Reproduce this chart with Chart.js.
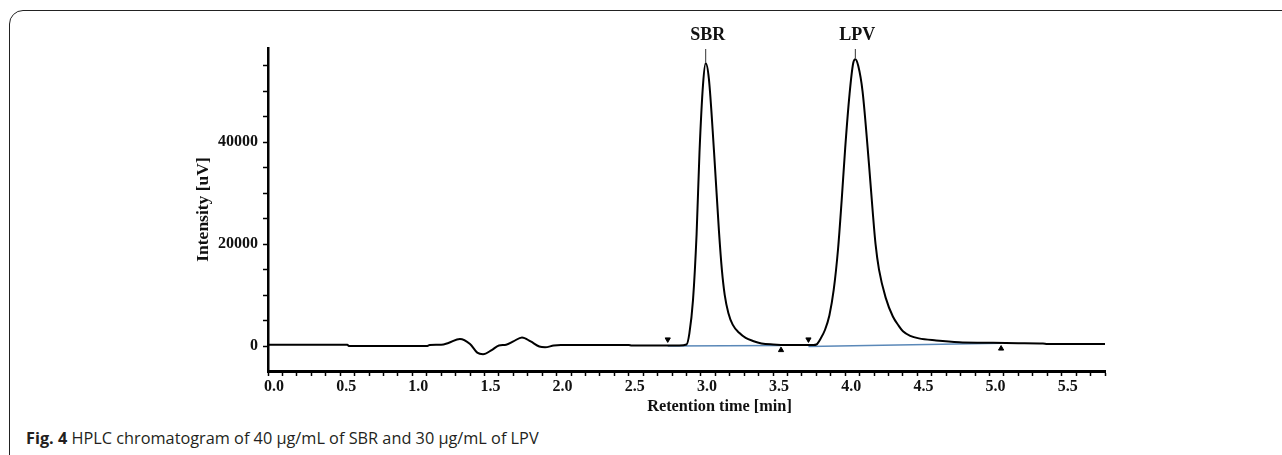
<!DOCTYPE html>
<html>
<head>
<meta charset="utf-8">
<script src="https://cdn.jsdelivr.net/npm/chart.js@4"></script>
<style>
  html, body { margin: 0; padding: 0; background: #fff; width: 1282px; height: 455px; overflow: hidden; }
  .card {
    position: absolute; left: 9px; top: 10px; width: 1300px; height: 480px;
    border: 1.5px solid #222; border-radius: 14px; box-sizing: border-box;
  }
  #wrap { position: absolute; left: 0; top: 0; width: 1282px; height: 420px; }
  .caption {
    position: absolute; left: 26px; top: 427px;
    font-family: "Open Sans", sans-serif; font-size: 16.3px; color: #231f20; white-space: nowrap;
  }
  .caption b { font-weight: 700; }
</style>
</head>
<body>
<div class="card"></div>
<div id="wrap"><canvas id="hplcChart"></canvas></div>
<div class="caption"><b>Fig. 4</b> HPLC chromatogram of 40 μg/mL of SBR and 30 μg/mL of LPV</div>
<script>
// chromatogram trace (min, uV)
const times = [
  0.00, 0.55, 0.56, 1.10, 1.12, 1.20, 1.25, 1.33, 1.40, 1.45, 1.49, 1.55, 1.60, 1.65, 1.70, 1.76, 1.82, 1.88, 1.92, 1.98, 2.03,
  2.50, 2.52, 2.85, 2.90, 2.92, 2.945, 2.97, 2.99, 3.015, 3.033, 3.055, 3.09, 3.125, 3.145, 3.165, 3.19, 3.22, 3.265, 3.31, 3.36, 3.42, 3.50, 3.60,
  3.78, 3.80, 3.83, 3.86, 3.89, 3.92, 3.95, 3.975, 4.00, 4.03, 4.055, 4.07, 4.09, 4.12, 4.165, 4.19, 4.21, 4.234, 4.28, 4.33, 4.37, 4.40, 4.45,
  4.51, 4.63, 4.79, 4.97, 5.20, 5.37, 5.40, 5.80
];
const intensity = [
  250, 250, 0, 0, 200, 250, 600, 1400, 400, -1300, -1600, -800, 100, 250, 900, 1700, 900, -100, -250, 100, 200,
  200, 100, 100, 300, 2500, 9000, 22000, 38000, 51500, 55500, 52500, 38500, 22500, 15000, 10000, 6500, 4200, 2600, 1600, 1000, 500, 300, 200,
  200, 300, 1500, 3200, 6000, 11000, 19000, 28500, 39000, 49500, 55500, 56300, 55000, 50000, 35500, 26500, 20000, 15000, 9500, 5800, 4000, 2900, 2000,
  1500, 1100, 750, 650, 550, 500, 400, 400
];

// integration baselines
const baseTimes = [[2.77, 3.555], [3.745, 5.08]];
const baseValues = [[0, 100], [-100, 550]];

// peak start (down) / end (up) markers
const startMarkTimes = [2.77, 3.745];
const startMarkValues = [1300, 1300];
const endMarkTimes = [3.555, 5.08];
const endMarkValues = [-800, -500];

// peak names
const peakNames = ["SBR", "LPV"];
const peakTimes = [3.033, 4.07];
const peakHeights = [55500, 56300];

// axis ticks
const xLabelStep = 0.5;
const yTicks = [0, 5000, 10000, 15000, 20000, 25000, 30000, 35000, 40000, 45000, 50000, 55000];
const yLabels = [0, 20000, 40000];

const serif = "'Liberation Serif', 'Times New Roman', serif";

function pts(xs, ys) {
  return xs.map((x, i) => ({ x: x, y: ys[i] }));
}

function isMultiple(v, step) {
  const k = v / step;
  return Math.abs(k - Math.round(k)) < 1e-6;
}

const peakLabelPlugin = {
  id: "peakLabels",
  afterDatasetsDraw(chart) {
    const { ctx, scales, chartArea } = chart;
    ctx.save();
    ctx.strokeStyle = "#333";
    ctx.lineWidth = 1;
    ctx.fillStyle = "#111";
    ctx.font = "bold 18px " + serif;
    ctx.textAlign = "center";
    ctx.textBaseline = "middle";
    peakNames.forEach((name, i) => {
      const px = scales.x.getPixelForValue(peakTimes[i]);
      const py = scales.y.getPixelForValue(peakHeights[i]);
      ctx.beginPath();
      ctx.moveTo(px, py - 1);
      ctx.lineTo(px, chartArea.top + 1);
      ctx.stroke();
      ctx.fillText(name, px + 2, chartArea.top - 13);
    });
    // x axis title, sits right of centre in the original
    ctx.font = "bold 16.3px " + serif;
    ctx.fillText("Retention time [min]", (chartArea.left + chartArea.right) / 2 + 33, chartArea.bottom + 36);
    ctx.restore();
  },
};

const ctx = document.getElementById("hplcChart").getContext("2d");
const hplcChart = new Chart(ctx, {
  type: "scatter",
  data: {
    datasets: [
      {
        data: pts(times, intensity),
        showLine: true,
        borderColor: "#000",
        borderWidth: 2,
        pointRadius: 0,
        cubicInterpolationMode: "monotone",
        order: 1,
      },
      {
        data: pts(baseTimes[0], baseValues[0]),
        showLine: true,
        borderColor: "#5a88b8",
        borderWidth: 1.5,
        pointRadius: 0,
        order: 2,
      },
      {
        data: pts(baseTimes[1], baseValues[1]),
        showLine: true,
        borderColor: "#5a88b8",
        borderWidth: 1.5,
        pointRadius: 0,
        order: 2,
      },
      {
        data: pts(startMarkTimes, startMarkValues),
        pointStyle: "triangle",
        rotation: 180,
        pointRadius: 3,
        backgroundColor: "#000",
        borderColor: "#000",
        borderWidth: 1,
        order: 0,
      },
      {
        data: pts(endMarkTimes, endMarkValues),
        pointStyle: "triangle",
        pointRadius: 3,
        backgroundColor: "#000",
        borderColor: "#000",
        borderWidth: 1,
        order: 0,
      },
    ],
  },
  options: {
    responsive: true,
    maintainAspectRatio: false,
    animation: false,
    events: [],
    layout: {
      padding: { left: 188, right: 177, top: 48, bottom: 4 },
    },
    plugins: {
      legend: { display: false },
      tooltip: { enabled: false },
    },
    scales: {
      x: {
        type: "linear",
        min: 0,
        max: 5.8,
        afterFit: function (scale) {
          scale.height = 45;
        },
        border: { display: true, color: "#000", width: 3 },
        grid: {
          drawOnChartArea: false,
          drawTicks: true,
          tickLength: 5,
          tickWidth: 1.5,
          tickColor: "#000",
        },
        ticks: {
          stepSize: 0.1,
          autoSkip: false,
          maxRotation: 0,
          padding: 1,
          labelOffset: 6,
          color: "#111",
          font: { family: serif, size: 16, weight: "bold" },
          callback: function (value) {
            return isMultiple(value, xLabelStep) ? Number(value).toFixed(1) : "";
          },
        },
      },
      y: {
        type: "linear",
        min: -4900,
        max: 58500,
        afterBuildTicks: function (scale) {
          scale.ticks = yTicks.map((v) => ({ value: v }));
        },
        afterFit: function (scale) {
          scale.width = 80;
        },
        border: { display: true, color: "#000", width: 2.5 },
        grid: {
          drawOnChartArea: false,
          drawTicks: true,
          tickLength: 5,
          tickWidth: 1.5,
          tickColor: "#000",
        },
        title: {
          display: true,
          text: "Intensity [uV]",
          color: "#111",
          font: { family: serif, size: 17.5, weight: "bold" },
          padding: { top: 5, bottom: 0 },
        },
        ticks: {
          autoSkip: false,
          padding: 5,
          color: "#111",
          font: { family: serif, size: 16, weight: "bold" },
          callback: function (value) {
            return yLabels.includes(value) ? String(value) : "";
          },
        },
      },
    },
  },
  plugins: [peakLabelPlugin],
});
</script>
</body>
</html>
